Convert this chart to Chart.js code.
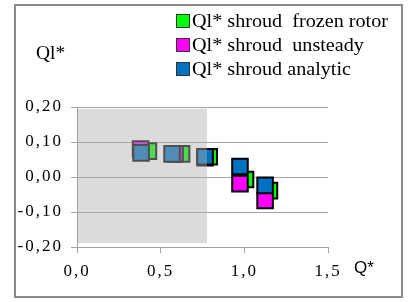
<!DOCTYPE html>
<html>
<head>
<meta charset="utf-8">
<script src="https://cdn.jsdelivr.net/npm/chart.js@4/dist/chart.umd.min.js"></script>
<style>
  body { margin: 0; background: #fff; }
  #wrap { position: relative; width: 409px; height: 302px; }
  #frame { position: absolute; left: 14px; top: 4px; width: 385px; height: 290px; border: 2px solid #8a8a8a; }
  #chart { position: absolute; left: 0; top: 0; }
  .lab { position: absolute; white-space: pre; color: #000; }
  .serif { font-family: "Liberation Serif", "Times New Roman", serif; }
  #legend { position: absolute; left: 176px; top: 9px; font-size: 18px; line-height: 24px; }
  #legend div { white-space: pre; }
  #legend span.box { display: inline-block; width: 12px; height: 12px; border: 1px solid #333; margin-right: 2px; vertical-align: -1px; }
  #legend span.txt { display: inline-block; transform: scaleX(1.12); transform-origin: left center; }
</style>
</head>
<body>
<div id="wrap">
  <div id="frame"></div>
  <canvas id="chart" width="409" height="302"></canvas>
  <div id="legend" class="serif"></div>
  <div class="lab serif" style="left:36px; top:43px; font-size:18px; transform:scaleX(1.08); transform-origin:left center;">Ql*</div>
  <div class="lab" style="left:354px; top:258px; font-size:17px; font-family:'Liberation Sans', Arial, sans-serif;">Q*</div>
</div>
<script>
// series values
const frozenX   = [0.427, 0.625, 0.790, 1.007, 1.150];
const frozenY   = [0.074, 0.066, 0.058, -0.007, -0.039];
const unsteadyX = [0.380, 0.586, 0.765, 0.974, 1.124];
const unsteadyY = [0.080, 0.066, 0.055, -0.019, -0.067];
const analyticX = [0.383, 0.568, 0.765, 0.974, 1.124];
const analyticY = [0.069, 0.066, 0.058, 0.030, -0.024];

const seriesNames = ["Ql* shroud  frozen rotor", "Ql* shroud  unsteady", "Ql* shroud analytic"];
const seriesColors = ["#00ff00", "#ff00ff", "#0070c0"];

// shaded range
const shadeX = [0, 0.777];
const shadeY = [-0.189, 0.195];

const fmt = (v, d) => v.toFixed(d).replace('.', ',');
const toPoints = (xs, ys) => xs.map((x, i) => ({ x: x, y: ys[i] }));

// legend
const legend = document.getElementById('legend');
seriesNames.forEach((name, i) => {
  const row = document.createElement('div');
  row.innerHTML = '<span class="box" style="background:' + seriesColors[i] + '"></span>';
  const t = document.createElement('span');
  t.className = 'txt';
  t.textContent = name;
  row.appendChild(t);
  legend.appendChild(row);
});

const shadePlugin = {
  id: 'shade',
  beforeDraw(chart) {
    chart.ctx.letterSpacing = '2px';  // wider tick text like the original
  },
  afterDatasetsDraw(chart) {
    const { ctx, scales: { x, y } } = chart;
    const x0 = x.getPixelForValue(shadeX[0]), x1 = x.getPixelForValue(shadeX[1]);
    const y0 = y.getPixelForValue(shadeY[1]), y1 = y.getPixelForValue(shadeY[0]);
    ctx.save();
    ctx.fillStyle = 'rgba(176,176,176,0.45)';
    ctx.fillRect(x0 + 1, y0, x1 - x0 - 1, y1 - y0);
    ctx.restore();
  }
};

const ds = (label, xs, ys, color, order) => ({
  label: label,
  data: toPoints(xs, ys),
  pointStyle: 'rect',
  pointRadius: 11,
  pointHoverRadius: 11,
  backgroundColor: color,
  borderColor: '#000',
  borderWidth: 2,
  order: order
});

const tickFont = { family: "'Liberation Serif', 'Times New Roman', serif", size: 17 };

new Chart(document.getElementById('chart'), {
  type: 'scatter',
  data: {
    datasets: [
      ds(seriesNames[0], frozenX, frozenY, seriesColors[0], 3),
      ds(seriesNames[1], unsteadyX, unsteadyY, seriesColors[1], 2),
      ds(seriesNames[2], analyticX, analyticY, seriesColors[2], 1)
    ]
  },
  options: {
    responsive: false,
    animation: false,
    layout: { padding: { left: 0, right: 81, top: 107, bottom: 0 } },
    plugins: { legend: { display: false }, tooltip: { enabled: false } },
    scales: {
      x: {
        type: 'linear',
        min: 0, max: 1.5,
        afterFit: s => { s.height = 55; },
        ticks: { stepSize: 0.5, color: '#000', font: tickFont, padding: 8, callback: v => fmt(v, 1) },
        grid: { drawOnChartArea: false, drawTicks: true, tickLength: 6, color: '#a0a0a0' },
        border: { color: '#a0a0a0' }
      },
      y: {
        min: -0.2, max: 0.2,
        afterFit: s => { s.width = 77; },
        ticks: { stepSize: 0.1, color: '#000', font: tickFont, padding: 8, callback: v => fmt(v, 2) },
        grid: { color: '#a5a5a5', tickLength: 6 },
        border: { color: '#a0a0a0' }
      }
    }
  },
  plugins: [shadePlugin]
});
</script>
</body>
</html>
